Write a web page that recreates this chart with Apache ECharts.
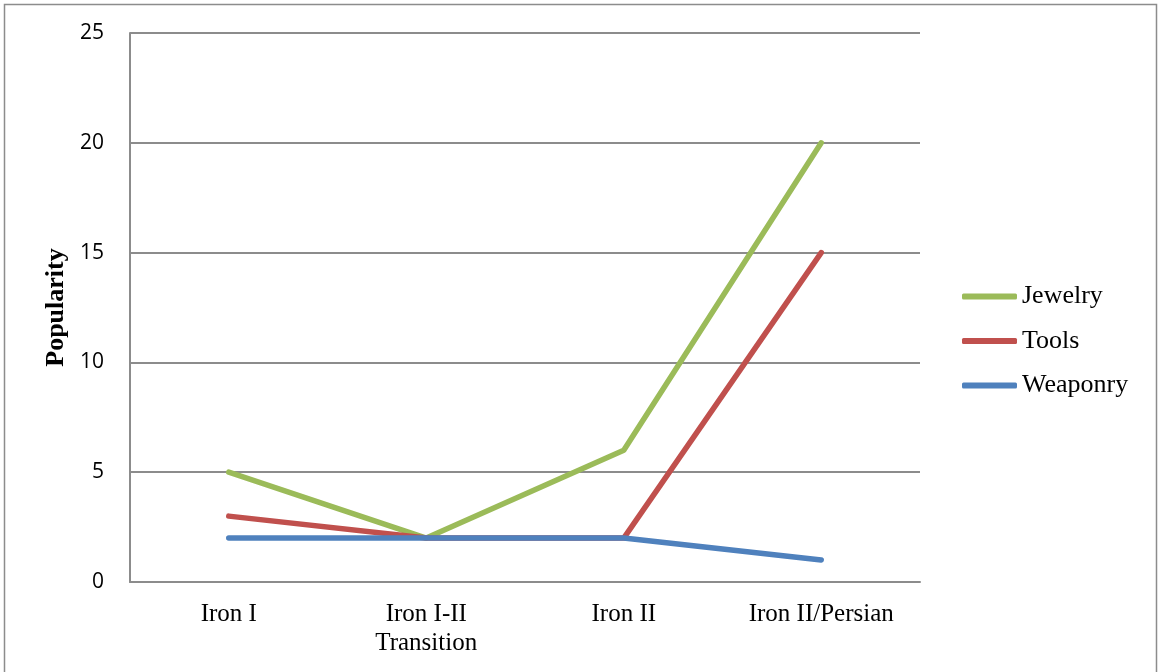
<!DOCTYPE html>
<html>
<head>
<meta charset="utf-8">
<title>Popularity by period</title>
<script src="https://cdn.jsdelivr.net/npm/echarts@6/dist/echarts.min.js"></script>
<style>
  html, body { margin: 0; padding: 0; background: #ffffff; }
  #chart { width: 1158px; height: 672px; }
</style>
</head>
<body>
<div id="chart"></div>
<script>
// Periods along the x axis
const periods = ['Iron I', 'Iron I-II\nTransition', 'Iron II', 'Iron II/Persian'];

// Popularity counts per object class
const jewelry = [5, 2, 6, 20];
const tools = [3, 2, 2, 15];
const weaponry = [2, 2, 2, 1];

const serif = '"Liberation Serif", "Times New Roman", serif';
const sans = '"Open Sans", "Liberation Sans", sans-serif';

const chart = echarts.init(document.getElementById('chart'), null, { renderer: 'canvas' });

function lineSeries(name, data, color) {
  return {
    name: name,
    type: 'line',
    data: data,
    showSymbol: false,
    symbol: 'none',
    lineStyle: { color: color, width: 5.5, cap: 'round', join: 'round' },
    itemStyle: { color: color },
    emphasis: { disabled: true },
    animation: false
  };
}

chart.setOption({
  animation: false,
  backgroundColor: '#ffffff',
  graphic: [{
    type: 'rect',
    shape: { x: 4.5, y: 4.5, width: 1152, height: 700 },
    style: { fill: 'none', stroke: '#8c8c8c', lineWidth: 1.5 },
    silent: true
  }],
  grid: { left: 130, right: 238, top: 33, bottom: 90, containLabel: false },
  legend: {
    orient: 'vertical',
    left: 962,
    top: 283,
    padding: 0,
    icon: 'roundRect',
    itemWidth: 55,
    itemHeight: 6,
    itemGap: 17.5,
    textStyle: { fontFamily: serif, fontSize: 26, color: '#000', lineHeight: 27 },
    data: ['Jewelry', 'Tools', 'Weaponry']
  },
  xAxis: {
    type: 'category',
    data: periods,
    boundaryGap: true,
    axisLine: { show: true, lineStyle: { color: '#8c8c8c', width: 2 } },
    axisTick: { show: false },
    axisLabel: { fontFamily: serif, fontSize: 25, color: '#000', margin: 18, lineHeight: 29, interval: 0 }
  },
  yAxis: {
    type: 'value',
    min: 0,
    max: 25,
    interval: 5,
    name: 'Popularity',
    nameLocation: 'middle',
    nameGap: 60,
    nameRotate: 90,
    nameTextStyle: { fontFamily: serif, fontSize: 26, fontWeight: 'bold', color: '#000' },
    axisLine: { show: true, lineStyle: { color: '#8c8c8c', width: 2 } },
    axisTick: { show: false },
    axisLabel: { fontFamily: sans, fontSize: 21, color: '#000', margin: 26, lineHeight: 26, padding: [3, 0, 0, 0] },
    splitLine: { show: true, lineStyle: { color: '#8c8c8c', width: 2 } }
  },
  series: [
    lineSeries('Jewelry', jewelry, '#9bbb59'),
    lineSeries('Tools', tools, '#c0504d'),
    lineSeries('Weaponry', weaponry, '#4f81bd')
  ]
});
</script>
</body>
</html>
